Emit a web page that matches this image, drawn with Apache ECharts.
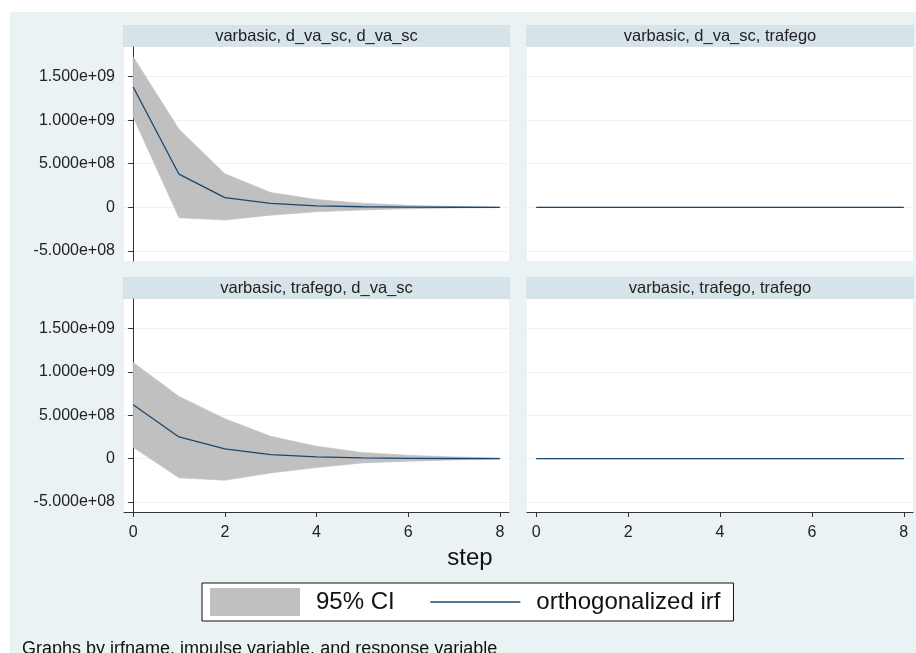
<!DOCTYPE html>
<html>
<head>
<meta charset="utf-8">
<script src="https://cdn.jsdelivr.net/npm/echarts@6/dist/echarts.min.js"></script>
<style>
html,body{margin:0;padding:0;background:#ffffff;}
#c{width:916px;height:653px;}
</style>
</head>
<body>
<div id="c"></div>
<script>
// ---- data ----
const steps = [0, 1, 2, 3, 4, 5, 6, 7, 8];
const panelTitles = [
  'varbasic, d_va_sc, d_va_sc',
  'varbasic, d_va_sc, trafego',
  'varbasic, trafego, d_va_sc',
  'varbasic, trafego, trafego'
];
// panel 1: impulse d_va_sc -> response d_va_sc
const irf_dva_dva = [1.38e9, 3.8e8, 1.12e8, 4.6e7, 1.8e7, 7e6, 3e6, 1e6, 5e5];
const lo_dva_dva  = [1.035e9, -1.2e8, -1.45e8, -9e7, -5e7, -3e7, -1.6e7, -7e6, -3e6];
const hi_dva_dva  = [1.725e9, 8.95e8, 3.85e8, 1.7e8, 9e7, 4.6e7, 2.3e7, 1e7, 5e6];
// panel 2: impulse d_va_sc -> response trafego
const irf_dva_tra = [0, 0, 0, 0, 0, 0, 0, 0, 0];
const lo_dva_tra  = [0, 0, 0, 0, 0, 0, 0, 0, 0];
const hi_dva_tra  = [0, 0, 0, 0, 0, 0, 0, 0, 0];
// panel 3: impulse trafego -> response d_va_sc
const irf_tra_dva = [6.2e8, 2.49e8, 1.11e8, 4.6e7, 2e7, 8e6, 3e6, 1e6, 5e5];
const lo_tra_dva  = [1.3e8, -2.22e8, -2.49e8, -1.65e8, -1.03e8, -5e7, -3e7, -1.5e7, -6e6];
const hi_tra_dva  = [1.107e9, 7.16e8, 4.6e8, 2.57e8, 1.42e8, 6.9e7, 3.8e7, 1.9e7, 8e6];
// panel 4: impulse trafego -> response trafego
const irf_tra_tra = [0, 0, 0, 0, 0, 0, 0, 0, 0];
const lo_tra_tra  = [0, 0, 0, 0, 0, 0, 0, 0, 0];
const hi_tra_tra  = [0, 0, 0, 0, 0, 0, 0, 0, 0];
const yTicks = [-5e8, 0, 5e8, 1e9, 1.5e9];
const xTicks = [0, 2, 4, 6, 8];

// ---- layout ----
const BG = '#eaf2f3';
const HDR = '#d6e3e9';
const CI = '#c0c0c0';
const IRF = '#1a476f';
const FONT = '"Liberation Sans", Arial, sans-serif';
const panels = [
  {left: 124, top: 47, width: 385, height: 214, irf: irf_dva_dva, lo: lo_dva_dva, hi: hi_dva_dva, yAxis: true, xAxis: false},
  {left: 527, top: 47, width: 386, height: 214, irf: irf_dva_tra, lo: lo_dva_tra, hi: hi_dva_tra, yAxis: false, xAxis: false},
  {left: 124, top: 299, width: 385, height: 213, irf: irf_tra_dva, lo: lo_tra_dva, hi: hi_tra_dva, yAxis: true, xAxis: true},
  {left: 527, top: 299, width: 386, height: 213, irf: irf_tra_tra, lo: lo_tra_tra, hi: hi_tra_tra, yAxis: false, xAxis: true}
];

function fmtY(v) {
  if (v === 0) return '0';
  return v.toExponential(3).replace(/e([+-])(\d)$/, 'e$10$2');
}

const grids = [], xAxes = [], yAxes = [], series = [], graphics = [];
graphics.push({type: 'rect', shape: {x: 10, y: 12, width: 906, height: 641}, style: {fill: BG}, z: -10});

panels.forEach((p, i) => {
  grids.push({left: p.left, top: p.top, width: p.width, height: p.height, backgroundColor: '#ffffff', show: true, borderWidth: 0});
  xAxes.push({
    type: 'value', gridIndex: i, min: -0.2, max: 8.2,
    axisLine: {show: p.xAxis, onZero: false, lineStyle: {color: '#333', width: 1}},
    axisTick: {show: p.xAxis, length: 5, customValues: xTicks, lineStyle: {color: '#333'}},
    axisLabel: {show: p.xAxis, customValues: xTicks, fontSize: 16, color: '#222', fontFamily: FONT, margin: 13},
    splitLine: {show: false}
  });
  yAxes.push({
    type: 'value', gridIndex: i, min: -6.15e8, max: 1.838e9,
    axisLine: {show: p.yAxis, lineStyle: {color: '#333', width: 1}},
    axisTick: {show: p.yAxis, length: 5, customValues: yTicks, lineStyle: {color: '#333'}},
    axisLabel: {show: p.yAxis, customValues: yTicks, fontSize: 16, color: '#222', fontFamily: FONT, margin: 9, formatter: fmtY},
    splitLine: {show: true, lineStyle: {color: BG, width: 1}}
  });
  const lo = p.lo, hi = p.hi;
  series.push({
    type: 'custom', name: '95% CI', xAxisIndex: i, yAxisIndex: i, silent: true,
    itemStyle: {color: CI},
    data: steps.map((s, k) => [s, lo[k], hi[k]]),
    encode: {x: 0, y: [1, 2]},
    renderItem: function (params, api) {
      if (params.dataIndex !== 0) return null;
      const pts = [];
      for (let k = 0; k < steps.length; k++) pts.push(api.coord([steps[k], hi[k]]));
      for (let k = steps.length - 1; k >= 0; k--) pts.push(api.coord([steps[k], lo[k]]));
      return {type: 'polygon', shape: {points: pts}, style: {fill: CI, stroke: CI, lineWidth: 0.6}};
    }
  });
  series.push({
    type: 'line', name: 'orthogonalized irf', xAxisIndex: i, yAxisIndex: i,
    data: steps.map((s, k) => [s, p.irf[k]]), symbol: 'none', silent: true,
    lineStyle: {color: IRF, width: 1.3}, itemStyle: {color: IRF}, z: 5
  });
  // header strip
  const hx = p.left - 1, hw = p.width + 2, hy = p.top - 22;
  graphics.push({type: 'rect', shape: {x: hx, y: hy, width: hw, height: 22}, style: {fill: HDR}, z: -5});
  graphics.push({type: 'text', x: hx + hw / 2, y: hy + 11,
    style: {text: panelTitles[i], fill: '#222', font: '16.5px ' + FONT, textAlign: 'center', textVerticalAlign: 'middle'}});
});

graphics.push({type: 'text', x: 470, y: 558,
  style: {text: 'step', fill: '#111', font: '24px ' + FONT, textAlign: 'center', textVerticalAlign: 'middle'}});
graphics.push({type: 'text', x: 22, y: 649,
  style: {text: 'Graphs by irfname, impulse variable, and response variable', fill: '#111', font: '18px ' + FONT, textAlign: 'left', textVerticalAlign: 'middle'}});

const chart = echarts.init(document.getElementById('c'), null, {renderer: 'canvas'});
chart.setOption({
  animation: false,
  backgroundColor: '#ffffff',
  grid: grids,
  xAxis: xAxes,
  yAxis: yAxes,
  series: series,
  legend: {
    left: 202, top: 583,
    orient: 'horizontal',
    backgroundColor: '#ffffff', borderColor: '#111', borderWidth: 1,
    padding: [5, 13, 5, 8],
    itemWidth: 90, itemHeight: 28, itemGap: 35,
    selectedMode: false,
    textStyle: {fontSize: 24, color: '#111', fontFamily: FONT, padding: [0, 0, 0, 11]},
    data: [
      {name: '95% CI', icon: 'rect', itemStyle: {color: CI, borderWidth: 0}},
      {name: 'orthogonalized irf', itemStyle: {color: 'rgba(0,0,0,0)', borderColor: 'rgba(0,0,0,0)', borderWidth: 0, opacity: 0},
       lineStyle: {color: IRF, width: 1.3, opacity: 1}}
    ]
  },
  graphic: graphics
});
</script>
</body>
</html>
